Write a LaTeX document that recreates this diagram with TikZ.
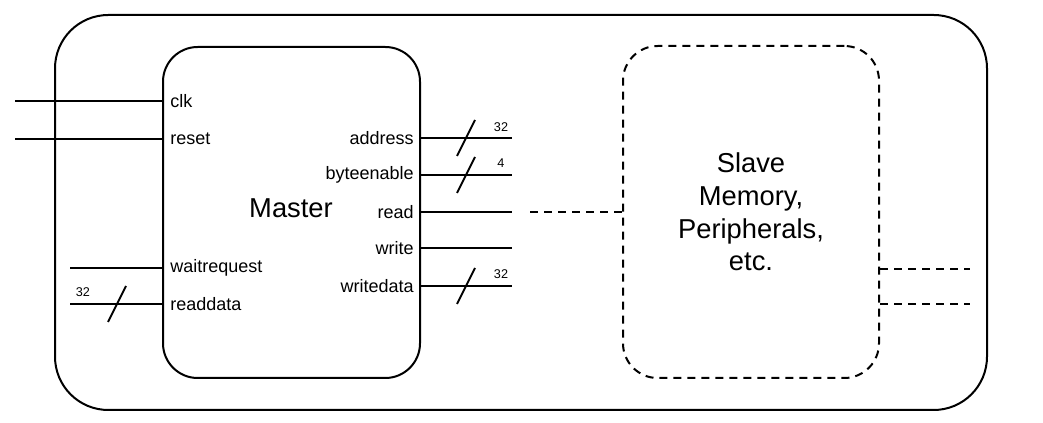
\documentclass[tikz,border=0pt]{standalone}
\usepackage{fontspec}
\setmainfont{Liberation Sans}
\begin{document}
\begin{tikzpicture}[x=0.75pt,y=-0.75pt,
  box/.style={draw,line width=1.5pt,rounded corners=26pt,inner sep=0pt},
  sig/.style={line width=1.5pt},
  dsig/.style={line width=1.5pt,dash pattern=on 6pt off 4.5pt},
  lbl/.style={font=\fontsize{13.5}{16}\selectfont,inner sep=0pt},
  num/.style={font=\fontsize{9.5}{11}\selectfont,inner sep=0pt},
  slash/.style={line width=1.5pt}]
\useasboundingbox (0,0) rectangle (1043,423);
\node[box,rounded corners=40pt,minimum width=699pt,minimum height=296.25pt] (outer) at (521,212.5) {};
\node[box,minimum width=192.75pt,minimum height=248.25pt] (master) at (291.5,212.5) {};
\node[box,dsig,minimum width=192pt,minimum height=249pt,align=center,font=\fontsize{20.5}{24.5}\selectfont] (slave) at (751,212) {Slave\\Memory,\\Peripherals,\\etc.};
\node[font=\fontsize{20.5}{24}\selectfont,inner sep=0pt] (mlbl) at (291,208) {Master};
% left inputs
\coordinate (clkA) at (15,101); \coordinate (clkB) at (163,101);
\coordinate (rstA) at (15,139); \coordinate (rstB) at (163,139);
\coordinate (wrA) at (70,268); \coordinate (wrB) at (163,268);
\coordinate (rdA) at (70,304); \coordinate (rdB) at (163,304);
\draw[sig] (clkA) -- (clkB);
\draw[sig] (rstA) -- (rstB);
\draw[sig] (wrA) -- (wrB);
\draw[sig] (rdA) -- (rdB);
\node[lbl,anchor=west] (lclk) at (170,101) {clk};
\node[lbl,anchor=west] (lrst) at (170,139) {reset};
\node[lbl,anchor=west] (lwr) at (170,268) {waitrequest};
\node[lbl,anchor=west] (lrd) at (170,304) {readdata};
\coordinate (s1a) at (108,322); \coordinate (s1b) at (126,286);
\draw[slash] (s1a) -- (s1b);
\node[num] (n1) at (83,292) {32};
% right outputs
\coordinate (adA) at (420,138); \coordinate (adB) at (512,138);
\coordinate (beA) at (420,175); \coordinate (beB) at (512,175);
\coordinate (reA) at (420,212); \coordinate (reB) at (512,212);
\coordinate (wA) at (420,248); \coordinate (wB) at (512,248);
\coordinate (wdA) at (420,286); \coordinate (wdB) at (512,286);
\draw[sig] (adA) -- (adB);
\draw[sig] (beA) -- (beB);
\draw[sig] (reA) -- (reB);
\draw[sig] (wA) -- (wB);
\draw[sig] (wdA) -- (wdB);
\node[lbl,anchor=east] (lad) at (414,138) {address};
\node[lbl,anchor=east] (lbe) at (414,175) {byteenable};
\node[lbl,anchor=east] (lre) at (414,212) {read};
\node[lbl,anchor=east] (lw) at (414,248) {write};
\node[lbl,anchor=east] (lwd) at (414,286) {writedata};
\coordinate (s2a) at (457,156); \coordinate (s2b) at (475,120);
\coordinate (s3a) at (457,193); \coordinate (s3b) at (475,157);
\coordinate (s4a) at (457,304); \coordinate (s4b) at (475,268);
\draw[slash] (s2a) -- (s2b);
\draw[slash] (s3a) -- (s3b);
\draw[slash] (s4a) -- (s4b);
\node[num] (n2) at (501,127) {32};
\node[num] (n3) at (501,163) {4};
\node[num] (n4) at (501,274) {32};
% dashed links
\coordinate (dA) at (530,212);
\draw[dsig] (dA) -- (slave.west);
\coordinate (r1a) at (880,269); \coordinate (r1b) at (970,269);
\coordinate (r2a) at (880,304); \coordinate (r2b) at (970,304);
\draw[dsig] (r1a) -- (r1b);
\draw[dsig] (r2a) -- (r2b);
\end{tikzpicture}
\end{document}
